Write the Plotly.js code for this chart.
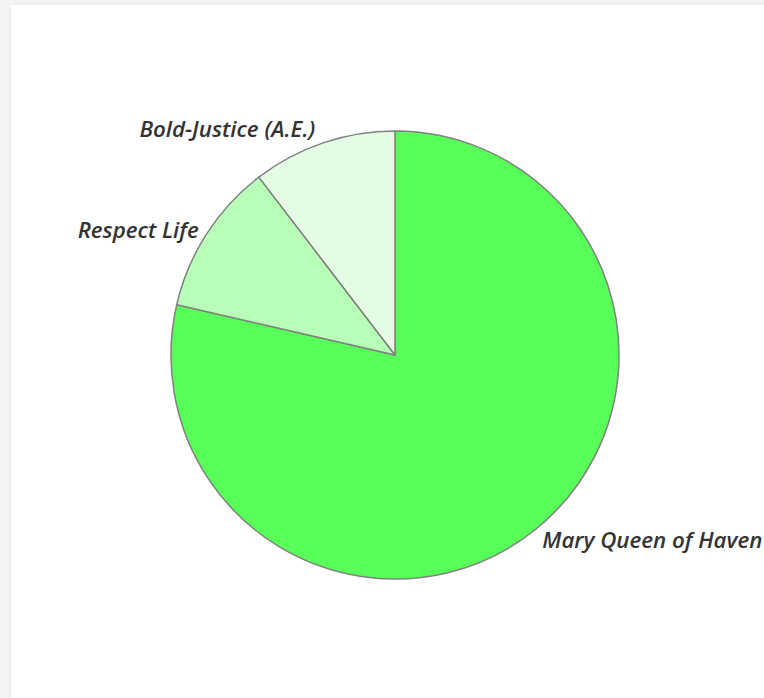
<!DOCTYPE html>
<html>
<head>
<meta charset="utf-8">
<script src="https://cdn.plot.ly/plotly-3.0.1.min.js"></script>
<style>
  html, body { margin:0; padding:0; width:764px; height:698px; overflow:hidden; background:#f5f5f5; }
  #card { position:absolute; left:11px; top:5px; width:790px; height:730px; background:#fff;
          box-shadow: 0 0 6px rgba(0,0,0,0.08); }
  #chart { position:absolute; left:0; top:0; width:790px; height:730px; }
</style>
</head>
<body>
<div id="card"><div id="chart"></div></div>
<script>
const labels = ["Mary Queen of Haven", "Respect Life", "Bold-Justice (A.E.)"];
const values = [78.6, 11.0, 10.4];
const colors = ["#59ff59", "#b8ffb8", "#e3fce3"];

Plotly.newPlot("chart", [{
  type: "pie",
  labels: labels,
  values: values,
  sort: false,
  direction: "clockwise",
  rotation: 0,
  textinfo: "label",
  textposition: "outside",
  hoverinfo: "label+percent",
  marker: { colors: colors, line: { color: "#808080", width: 1.5 } },
  outsidetextfont: { family: "Open Sans, Noto Sans, sans-serif", size: 22.3, color: "#333333", weight: 600, style: "italic" },
  automargin: false
}], {
  width: 790,
  height: 730,
  showlegend: false,
  paper_bgcolor: "#ffffff",
  plot_bgcolor: "#ffffff",
  margin: { l: 160, r: 182, t: 126, b: 156 },
  font: { family: "Open Sans, sans-serif" }
}, { displayModeBar: false, staticPlot: true });
</script>
</body>
</html>
